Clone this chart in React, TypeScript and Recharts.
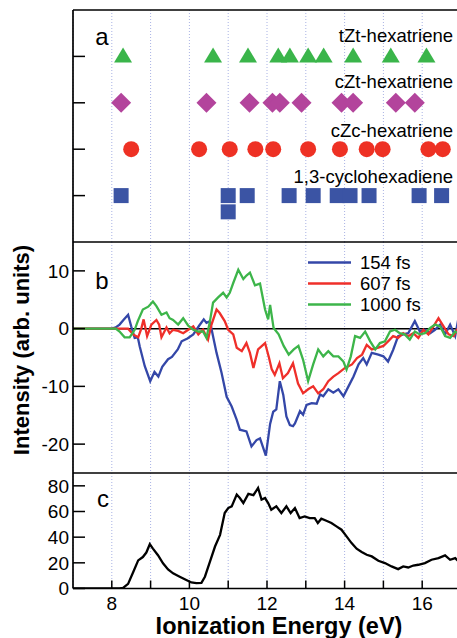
import React from "react";
import {
  ComposedChart,
  Line,
  Scatter,
  XAxis,
  YAxis,
  CartesianGrid,
  ReferenceLine,
} from "recharts";

const FONT = '"Liberation Sans", Arial, Helvetica, sans-serif';

// Panel a: calculated ionization energies (eV), one row per isomer
const ROW_TZT = 4;
const ROW_CZT = 3;
const ROW_CZC = 2;
const ROW_CHD = 1;
const tztEnergies = [8.29, 10.61, 11.51, 12.29, 12.59, 13.06, 13.46, 14.22, 15.19, 16.11];
const cztEnergies = [8.24, 10.44, 11.55, 12.14, 12.33, 12.89, 13.92, 14.22, 15.32, 15.81];
const czcEnergies = [8.5, 10.25, 11.04, 11.7, 12.16, 13.06, 13.88, 14.57, 14.98, 16.16, 16.53];
const chdEnergies = [8.24, 11.0, 11.49, 12.57, 13.19, 13.81, 14.14, 14.63, 15.92, 16.5];
// the one CHD level drawn a little lower (degenerate with 11.0 eV)
const chdExtraEnergies = [11.0];
const chdExtraLevel = 0.65;

// Panel b: difference spectra
const e154 = [7.0, 8.0, 8.1, 8.2, 8.3, 8.42, 8.5, 8.59, 8.67, 8.72, 8.85, 8.99, 9.1, 9.2, 9.3, 9.45, 9.55, 9.7, 9.8, 9.95, 10.1, 10.25, 10.37, 10.44, 10.53, 10.6, 10.7, 10.83, 10.96, 11.09, 11.22, 11.3, 11.47, 11.6, 11.73, 11.82, 11.97, 12.08, 12.16, 12.24, 12.33, 12.42, 12.5, 12.59, 12.67, 12.72, 12.85, 12.93, 13.02, 13.15, 13.28, 13.37, 13.45, 13.58, 13.71, 13.84, 13.97, 14.1, 14.23, 14.36, 14.48, 14.57, 14.7, 14.87, 15.0, 15.12, 15.25, 15.38, 15.51, 15.64, 15.81, 15.94, 16.07, 16.2, 16.33, 16.46, 16.59, 16.72, 16.85, 16.95, 17.0];
const d154 = [0, 0, 0.2, 0.7, 1.5, 2.4, 0.4, -1.6, -1.5, -3.1, -6.5, -9.1, -7.5, -8.3, -6.6, -5.3, -4.9, -3.6, -2.2, -1.7, -1.0, 0.5, 1.6, 1.0, 1.3, -1.0, -4.2, -7.7, -11.8, -13.5, -15.8, -17.5, -17.8, -20.4, -19.3, -19.0, -22.0, -16.5, -14.4, -14.0, -9.1, -11.5, -15.2, -16.7, -16.9, -16.4, -14.3, -14.9, -13.2, -12.9, -13.0, -11.4, -11.7, -10.5, -11.1, -10.5, -11.7, -10.0, -8.3, -6.2, -5.1, -6.2, -4.2, -4.5, -4.8, -5.7, -3.7, -1.3, -1.0, -0.8, 1.3, -0.5, -0.2, -0.8, -0.2, 0.7, -1.0, 0.7, -1.3, 2.4, 2.0];

const e607 = [7.0, 8.3, 8.42, 8.55, 8.68, 8.76, 8.82, 8.91, 9.02, 9.15, 9.22, 9.28, 9.41, 9.49, 9.58, 9.71, 9.84, 9.97, 10.1, 10.23, 10.35, 10.48, 10.57, 10.7, 10.78, 10.91, 11.0, 11.13, 11.22, 11.35, 11.47, 11.56, 11.65, 11.77, 11.95, 12.05, 12.12, 12.2, 12.32, 12.41, 12.54, 12.67, 12.8, 12.93, 13.06, 13.19, 13.32, 13.45, 13.58, 13.71, 13.84, 14.01, 14.19, 14.32, 14.45, 14.57, 14.7, 14.87, 15.0, 15.12, 15.25, 15.38, 15.51, 15.64, 15.77, 15.9, 16.03, 16.16, 16.29, 16.42, 16.55, 16.68, 16.81, 16.9, 17.0];
const d607 = [0, 0, 0, -1.0, -1.5, 0, 1.6, -1.3, 0.7, 1.5, 0.7, -1.5, 0.2, -0.8, -0.2, -0.4, -0.8, -0.2, 0.4, -1.0, -0.2, -1.9, 0.7, 3.3, 2.7, 1.3, -0.2, -1.0, -3.3, -3.9, -2.5, -4.2, -6.8, -3.6, -2.5, -5.0, -7.0, -8.0, -6.0, -8.6, -7.7, -6.0, -9.5, -11.2, -10.5, -10.0, -11.2, -10.5, -9.1, -8.3, -7.7, -6.8, -6.2, -5.1, -4.5, -2.8, -3.6, -3.3, -3.0, -2.2, -1.3, -1.6, -0.8, -1.3, -0.8, -1.6, -0.2, -1.0, 0.4, 1.8, 0.4, -1.0, -1.3, -0.2, -0.5];

const e1000 = [7.0, 8.1, 8.2, 8.33, 8.46, 8.59, 8.67, 8.8, 8.94, 9.06, 9.15, 9.28, 9.41, 9.49, 9.58, 9.71, 9.84, 9.97, 10.1, 10.23, 10.35, 10.44, 10.53, 10.61, 10.74, 10.87, 10.96, 11.04, 11.13, 11.26, 11.39, 11.47, 11.56, 11.69, 11.82, 11.95, 12.03, 12.08, 12.17, 12.3, 12.43, 12.56, 12.69, 12.81, 12.93, 13.06, 13.19, 13.32, 13.45, 13.58, 13.71, 13.84, 13.97, 14.05, 14.16, 14.27, 14.4, 14.53, 14.66, 14.79, 14.91, 15.04, 15.17, 15.3, 15.42, 15.55, 15.68, 15.81, 15.94, 16.07, 16.2, 16.33, 16.46, 16.59, 16.72, 16.85, 17.0];
const d1000 = [0, 0, -0.5, -1.5, -1.5, -0.2, 1.3, 3.3, 3.8, 4.7, 3.9, 2.4, 2.8, 1.8, 1.5, 0.7, 1.8, 0.5, -0.2, -0.5, -0.5, -1.6, 1.3, 4.5, 5.4, 6.2, 5.4, 6.2, 7.9, 10.2, 8.6, 9.2, 9.7, 7.5, 7.8, 3.3, 1.6, 4.1, 0.1, -1.0, -3.0, -4.5, -3.6, -3.0, -5.4, -9.1, -6.2, -3.6, -4.8, -3.9, -4.8, -4.8, -5.7, -7.1, -4.8, -1.3, -1.6, -0.5, -2.2, -3.6, -2.5, -2.2, -0.5, -0.2, -0.8, -1.0, -1.9, -0.5, -1.0, -0.8, 0.1, 0.7, 0.4, -1.3, -1.6, -0.5, -1.0];

// Panel c: ground-state spectrum
const eRef = [7.0, 8.2, 8.29, 8.42, 8.55, 8.68, 8.8, 8.89, 8.98, 9.06, 9.19, 9.32, 9.45, 9.58, 9.75, 9.92, 10.05, 10.18, 10.31, 10.4, 10.53, 10.66, 10.79, 10.91, 11.0, 11.09, 11.22, 11.3, 11.39, 11.52, 11.65, 11.77, 11.86, 11.95, 12.03, 12.11, 12.24, 12.37, 12.5, 12.61, 12.72, 12.84, 12.97, 13.1, 13.23, 13.31, 13.4, 13.53, 13.66, 13.79, 13.92, 14.05, 14.18, 14.31, 14.44, 14.57, 14.7, 14.87, 15.04, 15.21, 15.38, 15.51, 15.64, 15.77, 15.9, 16.07, 16.24, 16.42, 16.59, 16.72, 16.85, 16.95, 17.0];
const iRef = [0, 0, 0.5, 3.6, 12.7, 21.9, 24.5, 28.0, 34.5, 31.1, 25.9, 19.6, 14.9, 11.8, 9.2, 6.6, 4.7, 4.2, 4.4, 9.2, 20.9, 32.7, 41.8, 58.8, 62.7, 64.0, 73.2, 70.5, 66.6, 73.7, 72.7, 78.4, 69.3, 70.5, 66.6, 61.4, 64.0, 58.8, 64.0, 58.8, 62.7, 54.9, 56.2, 54.9, 54.9, 51.0, 54.4, 52.8, 51.0, 48.4, 45.8, 40.6, 35.4, 31.0, 28.4, 26.3, 25.0, 21.6, 19.8, 17.2, 15.1, 17.2, 16.4, 17.9, 18.5, 19.8, 22.4, 23.7, 25.8, 22.4, 23.7, 20.6, 21.0];

const EV_TICKS = [8, 9, 10, 11, 12, 13, 14, 15, 16];
const SERIES = [
  { name: "154 fs", color: "#3447a8", xs: e154, ys: d154 },
  { name: "607 fs", color: "#ef2f2a", xs: e607, ys: d607 },
  { name: "1000 fs", color: "#3db54a", xs: e1000, ys: d1000 },
];

const pts = (xs: number[], ys: number[]) => xs.map((x, i) => ({ x, y: ys[i] }));
const row = (xs: number[], level: number) => xs.map((x) => ({ x, y: level }));

const CHART_W = 470;
const LEFT_W = 73;
const MARGIN_R = 9;
const TXT = { fontFamily: FONT, fill: "#000" };

// ticks drawn inward, labels outside
const leftTick = (labels: boolean) => (p: any) => (
  <g>
    <line x1={p.x} x2={p.x + 12} y1={p.y} y2={p.y} stroke="#000" strokeWidth={1.5} />
    {labels && (
      <text x={p.x - 4} y={p.y} dy="0.36em" textAnchor="end" fontSize={19} {...TXT}>
        {p.payload.value}
      </text>
    )}
  </g>
);
const rightTick = (p: any) => (
  <line x1={p.x} x2={p.x - 11} y1={p.y} y2={p.y} stroke="#000" strokeWidth={1.5} />
);
const topTick = (p: any) => (
  <line x1={p.x} x2={p.x} y1={p.y} y2={p.y + 7} stroke="#000" strokeWidth={1.5} />
);
const bottomTick = (labels: boolean) => (p: any) => (
  <g>
    <line x1={p.x} x2={p.x} y1={p.y} y2={p.y - 8} stroke="#000" strokeWidth={1.5} />
    {labels && p.payload.value % 2 === 0 && (
      <text x={p.x} y={p.y + 21.5} textAnchor="middle" fontSize={19} {...TXT}>
        {p.payload.value}
      </text>
    )}
  </g>
);

const triangle = (p: any) => (
  <polygon
    points={`${p.cx},${p.cy - 9} ${p.cx + 9},${p.cy + 6} ${p.cx - 9},${p.cy + 6}`}
    fill="#3ab54a"
  />
);
const diamond = (p: any) => (
  <polygon
    points={`${p.cx},${p.cy - 10} ${p.cx + 10},${p.cy} ${p.cx},${p.cy + 10} ${p.cx - 10},${p.cy}`}
    fill="#b3449c"
  />
);
const circle = (p: any) => <circle cx={p.cx} cy={p.cy} r={8} fill="#ee3124" />;
const square = (p: any) => (
  <rect x={p.cx - 7.5} y={p.cy - 7.5} width={15} height={15} fill="#3b54a4" />
);

function axes(
  domain: [number, number],
  yTicks: number[],
  yLabels: boolean,
  xLabels: boolean,
  bottomH: number
) {
  return [
    <CartesianGrid key="g" horizontal={false} stroke="#a9b2e4" strokeDasharray="1 2" />,
    <XAxis
      key="xb"
      dataKey="x"
      type="number"
      domain={[7, 17]}
      allowDataOverflow
      ticks={EV_TICKS}
      interval={0}
      height={bottomH}
      tickSize={0}
      tickMargin={0}
      tickLine={false}
      axisLine={false}
      tick={bottomTick(xLabels)}
    />,
    <XAxis
      key="xt"
      xAxisId="top"
      orientation="top"
      dataKey="x"
      type="number"
      domain={[7, 17]}
      allowDataOverflow
      ticks={EV_TICKS}
      interval={0}
      height={0}
      tickSize={0}
      tickMargin={0}
      tickLine={false}
      axisLine={false}
      tick={topTick}
    />,
    <YAxis
      key="yl"
      type="number"
      domain={domain}
      allowDataOverflow
      ticks={yTicks}
      interval={0}
      width={LEFT_W}
      tickSize={0}
      tickMargin={0}
      tickLine={false}
      axisLine={false}
      tick={leftTick(yLabels)}
    />,
    <YAxis
      key="yr"
      yAxisId="r"
      orientation="right"
      type="number"
      domain={domain}
      allowDataOverflow
      ticks={yTicks}
      interval={0}
      width={0}
      tickSize={0}
      tickMargin={0}
      tickLine={false}
      axisLine={false}
      tick={rightTick}
    />,
  ];
}

// panel frame edges (page pixels)
const FRAME_L = 73;
const FRAME_R = 461;
const FRAME_TOP = 10;
const FRAME_AB = 242;
const FRAME_BC = 473;
const FRAME_BOTTOM = 588.5;

export default function App() {
  return (
    <div
      style={{
        position: "absolute",
        top: 0,
        left: 0,
        width: 457,
        height: 638,
        overflow: "hidden",
        background: "#fff",
        fontFamily: FONT,
      }}
    >
      {/* panel a: stick spectra */}
      <div style={{ position: "absolute", top: 0, left: 0 }}>
        <ComposedChart width={CHART_W} height={242} margin={{ top: 10, right: MARGIN_R, bottom: 0, left: 0 }}>
          {axes([0, 5], [1, 2, 3, 4], false, false, 0)}
          <Scatter data={row(tztEnergies, ROW_TZT)} dataKey="y" shape={triangle} isAnimationActive={false} />
          <Scatter data={row(cztEnergies, ROW_CZT)} dataKey="y" shape={diamond} isAnimationActive={false} />
          <Scatter data={row(czcEnergies, ROW_CZC)} dataKey="y" shape={circle} isAnimationActive={false} />
          <Scatter data={row(chdEnergies, ROW_CHD)} dataKey="y" shape={square} isAnimationActive={false} />
          <Scatter data={row(chdExtraEnergies, chdExtraLevel)} dataKey="y" shape={square} isAnimationActive={false} />
        </ComposedChart>
      </div>

      {/* panel b: difference spectra */}
      <div style={{ position: "absolute", top: 242, left: 0 }}>
        <ComposedChart width={CHART_W} height={231} margin={{ top: 0, right: MARGIN_R, bottom: 0, left: 0 }}>
          {axes([-25, 15], [-20, -10, 0, 10], true, false, 0)}
          <ReferenceLine y={0} stroke="#000" strokeWidth={1.5} />
          {SERIES.map((s) => (
            <Line
              key={s.name}
              data={pts(s.xs, s.ys)}
              dataKey="y"
              name={s.name}
              stroke={s.color}
              strokeWidth={2.3}
              dot={false}
              type="linear"
              isAnimationActive={false}
            />
          ))}
        </ComposedChart>
      </div>

      {/* panel c: ground-state spectrum */}
      <div style={{ position: "absolute", top: 473, left: 0 }}>
        <ComposedChart width={CHART_W} height={165} margin={{ top: 0, right: MARGIN_R, bottom: 0, left: 0 }}>
          {axes([0, 90], [0, 20, 40, 60, 80], true, true, 49.5)}
          <Line
            data={pts(eRef, iRef)}
            dataKey="y"
            stroke="#000"
            strokeWidth={2.3}
            dot={false}
            type="linear"
            isAnimationActive={false}
          />
        </ComposedChart>
      </div>

      {/* frame + annotations */}
      <svg
        width={457}
        height={638}
        style={{ position: "absolute", top: 0, left: 0, pointerEvents: "none" }}
      >
        <g stroke="#000" strokeWidth={1.7} fill="none">
          <line x1={FRAME_L} x2={FRAME_L} y1={FRAME_TOP} y2={FRAME_BOTTOM} />
          <line x1={FRAME_R} x2={FRAME_R} y1={FRAME_TOP} y2={FRAME_BOTTOM} />
          {[FRAME_TOP, FRAME_AB, FRAME_BC, FRAME_BOTTOM].map((y) => (
            <line key={y} x1={FRAME_L} x2={FRAME_R} y1={y} y2={y} />
          ))}
        </g>
        <g fontFamily={FONT} fill="#000">
          <text x={102} y={45} fontSize={24} textAnchor="middle">a</text>
          <text x={102} y={289} fontSize={24} textAnchor="middle">b</text>
          <text x={103} y={507} fontSize={24} textAnchor="middle">c</text>

          <text x={453} y={42} fontSize={18.5} textAnchor="end">tZt-hexatriene</text>
          <text x={453} y={88} fontSize={18.5} textAnchor="end">cZt-hexatriene</text>
          <text x={453} y={137} fontSize={18.5} textAnchor="end">cZc-hexatriene</text>
          <text x={453} y={183} fontSize={18.5} textAnchor="end">1,3-cyclohexadiene</text>

          {SERIES.map((s, i) => (
            <g key={s.name}>
              <line x1={308} x2={351} y1={262.5 + i * 21} y2={262.5 + i * 21} stroke={s.color} strokeWidth={2.3} />
              <text x={360} y={262.5 + i * 21} dy="0.36em" fontSize={18.5}>{s.name}</text>
            </g>
          ))}

          <text x={279} y={634} fontSize={23.5} fontWeight="bold" textAnchor="middle">
            Ionization Energy (eV)
          </text>
          <text
            x={0}
            y={0}
            fontSize={22}
            fontWeight="bold"
            textAnchor="middle"
            transform="translate(29 350) rotate(-90)"
          >
            Intensity (arb. units)
          </text>
        </g>
      </svg>
    </div>
  );
}
